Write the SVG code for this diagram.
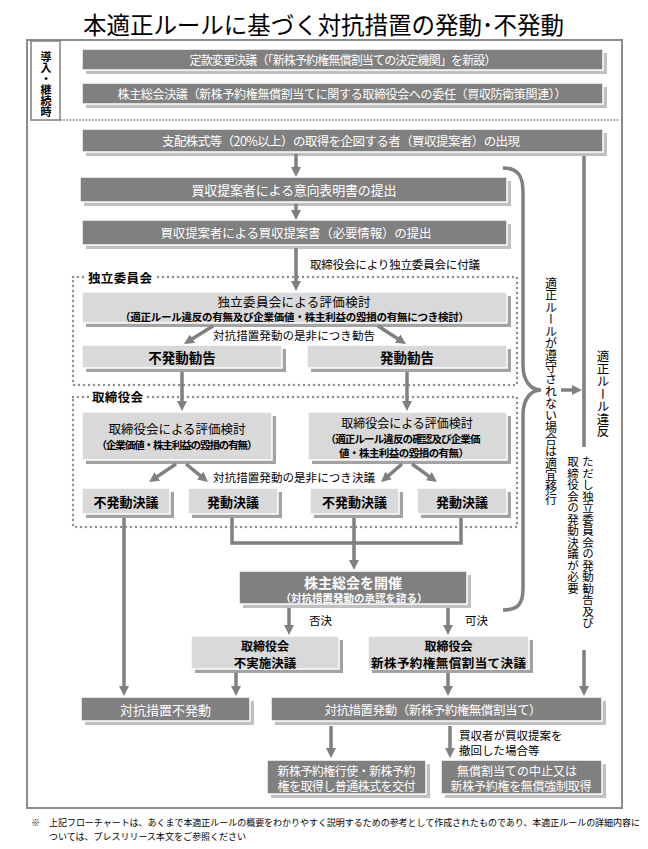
<svg xmlns="http://www.w3.org/2000/svg" width="648" height="849" viewBox="0 0 648 849">
<defs>
<marker id="ah" viewBox="0 0 10 10" refX="2" refY="5" markerWidth="10" markerHeight="10" markerUnits="userSpaceOnUse" orient="auto"><path d="M0,0 L10,5 L0,10 z" fill="#808080"/></marker>
<style>
text{font-family:'Noto Sans CJK JP','Noto Sans',sans-serif;dominant-baseline:central;}
.c{text-anchor:middle;}
.dark{fill:#808080;stroke:#fff;stroke-width:1.5;}
.light{fill:#d9d9d9;stroke:#fff;stroke-width:1.5;}
.sh1{fill:#c0c0c0;}
.sh2{fill:#a3a3a3;}
.w{fill:#fff;}
.k{fill:#000;}
.b{font-weight:bold;}
.conn{stroke:#808080;stroke-width:3.5;fill:none;}
.arr{marker-end:url(#ah);}
.grp{fill:none;stroke:#8c8c8c;stroke-width:2.4;stroke-linecap:round;stroke-dasharray:0 5;}
.v{writing-mode:vertical-rl;}
</style>
</defs>
<rect width="648" height="849" fill="#fff"/>
<g id="title"><text x="323.5" y="24" class="c k" font-size="23.5" textLength="481">本適正ルールに基づく対抗措置の発動･不発動</text></g>
<g id="frame"><rect x="27" y="40" width="595" height="768" fill="none" stroke="#8c8c8c" stroke-width="2"/>
<line x1="60" y1="120" x2="620" y2="120" stroke="#777" stroke-width="1.6" stroke-dasharray="1.6 1.6"/></g>
<g id="label-intro"><rect x="31" y="41" width="29" height="79" fill="#fff" stroke="#808080" stroke-width="1.5"/>
<text x="46" y="51" class="v k b" font-size="11">導入・継続時</text></g>

<g id="n-articles"><rect x="86" y="53" width="521" height="21" class="sh1"/><rect x="82" y="49" width="521" height="21" class="dark"/><text x="343" y="59.5" class="c w" font-size="12" textLength="307">定款変更決議（「新株予約権無償割当ての決定機関」を新設）</text></g>
<g id="n-gm-delegation"><rect x="86" y="87" width="521" height="21" class="sh1"/><rect x="82" y="83" width="521" height="21" class="dark"/><text x="342" y="93.5" class="c w" font-size="12" textLength="449">株主総会決議（新株予約権無償割当てに関する取締役会への委任（買収防衛策関連））</text></g>
<g id="n-emergence"><rect x="86" y="133" width="521" height="23" class="sh1"/><rect x="82" y="129" width="521" height="23" class="dark"/><text x="341" y="140.5" class="c w" font-size="12.5" textLength="358">支配株式等（20%以上）の取得を企図する者（買収提案者）の出現</text></g>
<g id="n-intent"><rect x="84" y="181" width="427" height="25" class="sh1"/><rect x="80" y="177" width="427" height="25" class="dark"/><text x="294" y="189.5" class="c w" font-size="13" textLength="205">買収提案者による意向表明書の提出</text></g>
<g id="n-proposal"><rect x="86" y="224" width="425" height="25" class="sh1"/><rect x="82" y="220" width="425" height="25" class="dark"/><text x="296" y="232.5" class="c w" font-size="12.5" textLength="271">買収提案者による買収提案書（必要情報）の提出</text></g>

<g id="grp-committee"><rect x="73" y="277" width="444" height="108" class="grp"/><rect x="85" y="269" width="70" height="16" fill="#fff"/><text x="88" y="277" class="k b" font-size="12.5" textLength="64">独立委員会</text></g>
<g id="n-committee-eval"><rect x="86" y="296" width="425" height="31" class="sh2"/><rect x="82" y="292" width="425" height="31" class="light"/><text x="294" y="301.5" class="c k" font-size="12.5" textLength="153">独立委員会による評価検討</text><text x="294.5" y="316.5" class="c k b" font-size="10.5" textLength="349">（適正ルール違反の有無及び企業価値・株主利益の毀損の有無につき検討）</text></g>
<g id="n-no-recommend"><rect x="86" y="349" width="200" height="23" class="sh2"/><rect x="82" y="345" width="200" height="23" class="light"/><text x="182" y="356.5" class="c k b" font-size="13.5">不発動勧告</text></g>
<g id="n-recommend"><rect x="311" y="349" width="200" height="23" class="sh2"/><rect x="307" y="345" width="200" height="23" class="light"/><text x="407" y="356.5" class="c k b" font-size="13.5">発動勧告</text></g>

<g id="grp-board"><rect x="73" y="397" width="444" height="130" class="grp"/><rect x="89" y="389" width="57" height="16" fill="#fff"/><text x="92" y="396" class="k b" font-size="12.5" textLength="51">取締役会</text></g>
<g id="n-board-eval-l"><rect x="86" y="416" width="190" height="48" class="sh2"/><rect x="82" y="412" width="190" height="48" class="light"/><text x="177" y="428.5" class="c k" font-size="12.5">取締役会による評価検討</text><text x="177" y="444.5" class="c k b" font-size="10.5" textLength="161">（企業価値・株主利益の毀損の有無）</text></g>
<g id="n-board-eval-r"><rect x="312" y="416" width="199" height="48" class="sh2"/><rect x="308" y="412" width="199" height="48" class="light"/><text x="407" y="422.5" class="c k" font-size="12">取締役会による評価検討</text><text x="403" y="438.5" class="c k b" font-size="10.5" textLength="155">（適正ルール違反の確認及び企業価</text><text x="404" y="452" class="c k b" font-size="10.5" textLength="130">値・株主利益の毀損の有無）</text></g>
<g id="n-no-resolve-l"><rect x="86" y="492" width="88" height="26" class="sh2"/><rect x="82" y="488" width="88" height="26" class="light"/><text x="126" y="501" class="c k b" font-size="13">不発動決議</text></g>
<g id="n-resolve-l"><rect x="192" y="492" width="90" height="26" class="sh2"/><rect x="188" y="488" width="90" height="26" class="light"/><text x="233" y="501" class="c k b" font-size="13">発動決議</text></g>
<g id="n-no-resolve-r"><rect x="314" y="492" width="89" height="26" class="sh2"/><rect x="310" y="488" width="89" height="26" class="light"/><text x="354.5" y="501" class="c k b" font-size="13">不発動決議</text></g>
<g id="n-resolve-r"><rect x="421" y="492" width="90" height="26" class="sh2"/><rect x="417" y="488" width="90" height="26" class="light"/><text x="462" y="501" class="c k b" font-size="13">発動決議</text></g>

<g id="n-gm"><rect x="243" y="575" width="228" height="33" class="sh1"/><rect x="239" y="571" width="228" height="33" class="dark"/><text x="353" y="581.5" class="c w b" font-size="14">株主総会を開催</text><text x="354" y="597" class="c w b" font-size="10.5" textLength="147">（対抗措置発動の承認を諮る）</text></g>
<g id="n-board-no"><rect x="195" y="640" width="148" height="33" class="sh2"/><rect x="191" y="636" width="148" height="33" class="light"/><text x="265" y="645" class="c k b" font-size="12">取締役会</text><text x="265" y="662" class="c k b" font-size="12.5">不実施決議</text></g>
<g id="n-board-yes"><rect x="372" y="640" width="161" height="33" class="sh2"/><rect x="368" y="636" width="161" height="33" class="light"/><text x="448.5" y="645" class="c k b" font-size="12">取締役会</text><text x="448.5" y="662" class="c k b" font-size="12.5" textLength="155">新株予約権無償割当て決議</text></g>
<g id="n-no-action"><rect x="85" y="701" width="169" height="24" class="sh1"/><rect x="81" y="697" width="169" height="24" class="dark"/><text x="165.5" y="709" class="c w" font-size="13">対抗措置不発動</text></g>
<g id="n-action"><rect x="275" y="701" width="331" height="24" class="sh1"/><rect x="271" y="697" width="331" height="24" class="dark"/><text x="433" y="709" class="c w" font-size="12.5" textLength="217">対抗措置発動（新株予約権無償割当て）</text></g>
<g id="n-exercise"><rect x="271" y="764" width="159" height="34" class="sh1"/><rect x="267" y="760" width="159" height="34" class="dark"/><text x="346.5" y="770" class="c w" font-size="12" textLength="138">新株予約権行使・新株予約</text><text x="346.5" y="785.5" class="c w" font-size="12" textLength="138">権を取得し普通株式を交付</text></g>
<g id="n-cancel"><rect x="445" y="764" width="161" height="34" class="sh1"/><rect x="441" y="760" width="161" height="34" class="dark"/><text x="517" y="770" class="c w" font-size="12">無償割当ての中止又は</text><text x="521" y="785.5" class="c w" font-size="12" textLength="141">新株予約権を無償強制取得</text></g>

<g id="connectors">
<line x1="296" y1="154" x2="296" y2="169" class="conn arr"/>
<line x1="296" y1="204" x2="296" y2="212" class="conn arr"/>
<line x1="296" y1="248" x2="296" y2="283" class="conn arr"/>
<line x1="213" y1="326" x2="190.8" y2="339.8" class="conn arr"/>
<line x1="378" y1="326" x2="399.3" y2="339.7" class="conn arr"/>
<line x1="182" y1="372" x2="182" y2="403" class="conn arr"/>
<line x1="407" y1="372" x2="407" y2="403" class="conn arr"/>
<line x1="176" y1="464" x2="155.7" y2="477.6" class="conn arr"/>
<line x1="186" y1="464" x2="201.8" y2="476.9" class="conn arr"/>
<line x1="402" y1="464" x2="387.1" y2="476.8" class="conn arr"/>
<line x1="412" y1="464" x2="430.5" y2="477.3" class="conn arr"/>
<line x1="124" y1="518" x2="124" y2="688" class="conn arr"/>
<path d="M232 518 V543 H461 V518" class="conn"/>
<line x1="354" y1="518" x2="354" y2="562" class="conn arr"/>
<line x1="289" y1="608" x2="289" y2="627" class="conn arr"/>
<line x1="448" y1="608" x2="448" y2="627" class="conn arr"/>
<line x1="236" y1="673" x2="236" y2="688" class="conn arr"/>
<line x1="448" y1="673" x2="448" y2="688" class="conn arr"/>
<line x1="584" y1="650" x2="584" y2="688" class="conn arr"/>
<line x1="584" y1="156" x2="584" y2="447" class="conn"/>
<path d="M503 168 C518 168 523 176 523 192 L523 365 C523 380 530 390 541 390 C530 390 523 400 523 415 L523 588 C523 604 518 610 503 610" class="conn"/>
<line x1="561" y1="390" x2="574" y2="390" class="conn arr"/>
<line x1="331" y1="726" x2="331" y2="750" class="conn arr"/>
<line x1="450" y1="726" x2="450" y2="750" class="conn arr"/>
</g>
<g id="connector-labels">
<text x="310" y="264" class="k" font-size="11.5" textLength="170">取締役会により独立委員会に付議</text>
<text x="294" y="335" class="c k" font-size="11.5" textLength="162">対抗措置発動の是非につき勧告</text>
<text x="294" y="477" class="c k" font-size="11.5" textLength="162">対抗措置発動の是非につき決議</text>
<text x="309" y="620" class="k" font-size="11.5">否決</text>
<text x="465" y="620" class="k" font-size="11.5">可決</text>
<text x="459" y="735" class="k" font-size="11.5">買収者が買収提案を</text>
<text x="459" y="750" class="k" font-size="11.5">撤回した場合等</text>
<text x="551" y="277" class="v k" font-size="12">適正ルールが遵守されない場合は適宜移行</text>
<text x="603" y="350" class="v k" font-size="12.5">適正ルール違反</text>
<text x="588" y="456" class="v k" font-size="11.5">ただし独立委員会の発動勧告及び</text>
<text x="573" y="456" class="v k" font-size="11.5">取締役会の発動決議が必要</text>
</g>
<g id="footnote">
<text x="31" y="822" class="k" font-size="9">※</text>
<text x="49" y="822" class="k" font-size="9" textLength="591">上記フローチャートは、あくまで本適正ルールの概要をわかりやすく説明するための参考として作成されたものであり、本適正ルールの詳細内容に</text>
<text x="49" y="836" class="k" font-size="9">ついては、プレスリリース本文をご参照ください</text>
</g>
</svg>
